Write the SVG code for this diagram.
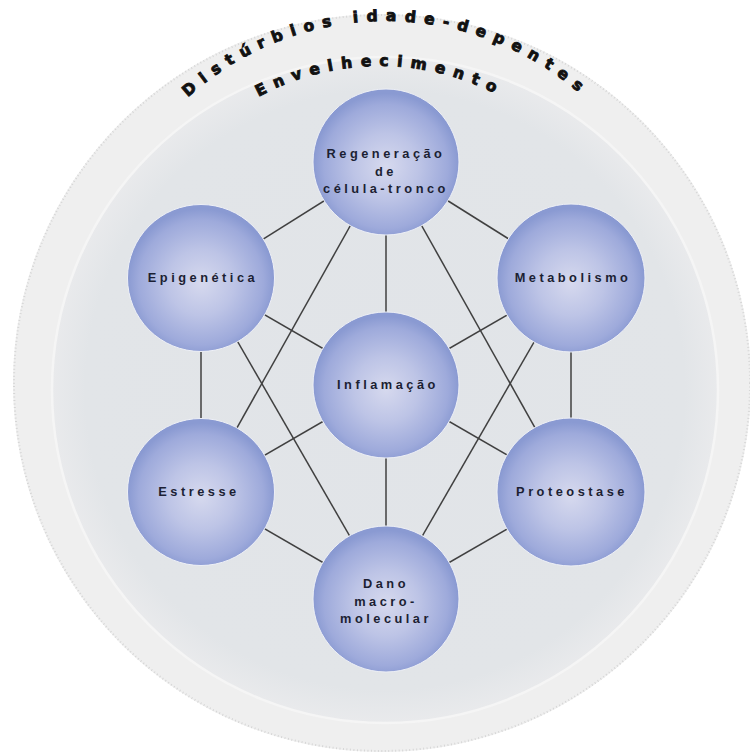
<svg xmlns="http://www.w3.org/2000/svg" width="750" height="754" viewBox="0 0 750 754">
  <defs>
    <radialGradient id="ball" cx="50%" cy="53%" r="50%">
      <stop offset="0%" stop-color="#d6d9ee"/>
      <stop offset="45%" stop-color="#bdc4e6"/>
      <stop offset="85%" stop-color="#9eaadb"/>
      <stop offset="100%" stop-color="#8a9ad2"/>
    </radialGradient>
    <radialGradient id="core" cx="50%" cy="50%" r="50%">
      <stop offset="0%" stop-color="#e1e4e8"/>
      <stop offset="90%" stop-color="#e2e5e8"/>
      <stop offset="100%" stop-color="#e9eaec"/>
    </radialGradient>
    <path id="arcOuter" d="M 91 316 A 295 295 0 0 1 681 316"/>
    <path id="arcInner" d="M 126 320 A 254 254 0 0 1 634 320"/>
  </defs>
  <style>
    .node circle { fill: url(#ball); stroke: #eef0f6; stroke-width: 1; }
    .node text { font-family: "Liberation Sans", Arial, sans-serif; font-size: 12.8px; font-weight: bold; letter-spacing: 3.5px; fill: #1c1f33; text-anchor: middle; }
    .edges line { stroke: #404040; stroke-width: 1.5; }
    .ring { font-family: "DejaVu Sans", "Liberation Sans", sans-serif; font-size: 15.5px; font-weight: bold; letter-spacing: 8.1px; fill: #111; stroke: #111; stroke-width: 0.9px; }
  </style>

  <rect width="750" height="754" fill="#ffffff"/>

  <!-- outer band -->
  <circle cx="382" cy="383" r="369" fill="#efefef"/>
  <circle cx="382" cy="383" r="368" fill="none" stroke="#d6d6d6" stroke-width="2" stroke-dasharray="1 2.5"/>
  <!-- inner disc -->
  <circle cx="385" cy="390" r="333" fill="url(#core)" stroke="#f5f5f5" stroke-width="2.5"/>

  <!-- curved titles -->
  <text class="ring"><textPath href="#arcOuter" startOffset="50%" text-anchor="middle">Distúrbios idade-depentes</textPath></text>
  <text class="ring"><textPath href="#arcInner" startOffset="50%" text-anchor="middle">Envelhecimento</textPath></text>

  <!-- connectors -->
  <g id="connectors" class="edges">
    <line x1="386" y1="162" x2="201" y2="278"/>
    <line x1="386" y1="162" x2="571" y2="278"/>
    <line x1="386" y1="162" x2="386" y2="385"/>
    <line x1="386" y1="162" x2="201" y2="492"/>
    <line x1="386" y1="162" x2="571" y2="492"/>
    <line x1="201" y1="278" x2="201" y2="492"/>
    <line x1="201" y1="278" x2="386" y2="385"/>
    <line x1="201" y1="278" x2="386" y2="599"/>
    <line x1="571" y1="278" x2="571" y2="492"/>
    <line x1="571" y1="278" x2="386" y2="385"/>
    <line x1="571" y1="278" x2="386" y2="599"/>
    <line x1="201" y1="492" x2="386" y2="385"/>
    <line x1="201" y1="492" x2="386" y2="599"/>
    <line x1="571" y1="492" x2="386" y2="385"/>
    <line x1="571" y1="492" x2="386" y2="599"/>
    <line x1="386" y1="385" x2="386" y2="599"/>
  </g>

  <g id="regeneracao" class="node">
    <circle cx="386" cy="162" r="73"/>
    <text x="386" y="158">Regeneração</text>
    <text x="386" y="176">de</text>
    <text x="386" y="193">célula-tronco</text>
  </g>
  <g id="epigenetica" class="node">
    <circle cx="201" cy="278" r="73.5"/>
    <text x="203" y="282">Epigenética</text>
  </g>
  <g id="metabolismo" class="node">
    <circle cx="571" cy="278" r="74"/>
    <text x="573" y="282">Metabolismo</text>
  </g>
  <g id="inflamacao" class="node">
    <circle cx="386" cy="385" r="73"/>
    <text x="388" y="389">Inflamação</text>
  </g>
  <g id="estresse" class="node">
    <circle cx="201" cy="492" r="73.5"/>
    <text x="199" y="496">Estresse</text>
  </g>
  <g id="proteostase" class="node">
    <circle cx="571" cy="492" r="74"/>
    <text x="572" y="496">Proteostase</text>
  </g>
  <g id="dano" class="node">
    <circle cx="386" cy="599" r="73"/>
    <text x="386" y="588">Dano</text>
    <text x="386" y="606">macro-</text>
    <text x="386" y="623">molecular</text>
  </g>
</svg>
